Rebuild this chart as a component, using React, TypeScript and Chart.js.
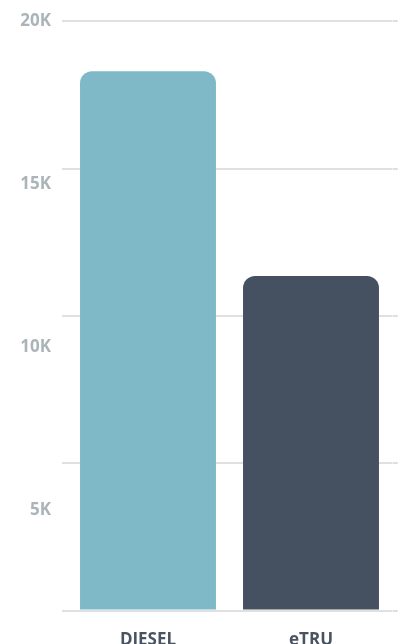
import React, { useEffect, useRef } from "react";
import { Chart, registerables } from "chart.js";

Chart.register(...registerables);

const categories = ["DIESEL", "eTRU"];
const values = [18300, 11350];
const barColors = ["#7fb9c8", "#455060"];
const yTickValues = [5000, 10000, 15000, 20000];

const FONT = "'Open Sans', sans-serif";
const GRID = "#e0e0e0";

export default function App() {
  const ref = useRef<HTMLCanvasElement | null>(null);

  useEffect(() => {
    if (!ref.current) return;
    const chart = new Chart(ref.current, {
      type: "bar",
      data: {
        labels: categories,
        datasets: [
          {
            data: values,
            backgroundColor: barColors,
            borderRadius: { topLeft: 12, topRight: 12, bottomLeft: 0, bottomRight: 0 },
            borderSkipped: false,
            categoryPercentage: 1,
            barPercentage: 0.834,
          },
        ],
      },
      options: {
        responsive: false,
        animation: false,
        layout: { padding: { top: 19, right: 6, left: 0, bottom: 0 } },
        plugins: { legend: { display: false }, tooltip: { enabled: false } },
        scales: {
          x: {
            type: "category",
            position: "bottom",
            grid: { display: false, drawTicks: false },
            border: { display: false },
            ticks: {
              color: "#4a5361",
              font: { family: FONT, size: 17, weight: "bold" },
              padding: 19,
            },
            afterFit: (s: any) => {
              s.height = 33.5;
            },
          },
          y: {
            position: "left",
            min: 0,
            max: 20000,
            weight: 0,
            ticks: { display: false, stepSize: 5000 },
            grid: { color: GRID, lineWidth: 2, drawTicks: true, tickLength: 4.5 },
            border: { display: false },
            afterFit: (s: any) => {
              s.width = 4.5;
            },
          },
          y2: {
            position: "left",
            min: 1911,
            max: 20000,
            weight: 1,
            grid: { display: false, drawTicks: false },
            border: { display: false },
            ticks: {
              color: "#aab4b9",
              font: { family: FONT, size: 17, weight: "bold" },
              padding: 11,
              callback: (v: any) => Number(v) / 1000 + "K",
            },
            afterBuildTicks: (s: any) => {
              s.ticks = yTickValues.map((v) => ({ value: v }));
            },
            afterFit: (s: any) => {
              s.width = 62;
            },
          },
          yr: {
            position: "right",
            min: 0,
            max: 20000,
            ticks: { display: false, stepSize: 5000 },
            grid: { color: GRID, lineWidth: 2, drawOnChartArea: false, drawTicks: true, tickLength: 5.5 },
            border: { display: false },
            afterFit: (s: any) => {
              s.width = 5.5;
            },
          },
        },
      },
    } as any);
    return () => chart.destroy();
  }, []);

  return (
    <canvas
      ref={ref}
      width={404}
      height={644}
      style={{ position: "absolute", left: 0, top: 0, width: 404, height: 644, display: "block" }}
    />
  );
}
